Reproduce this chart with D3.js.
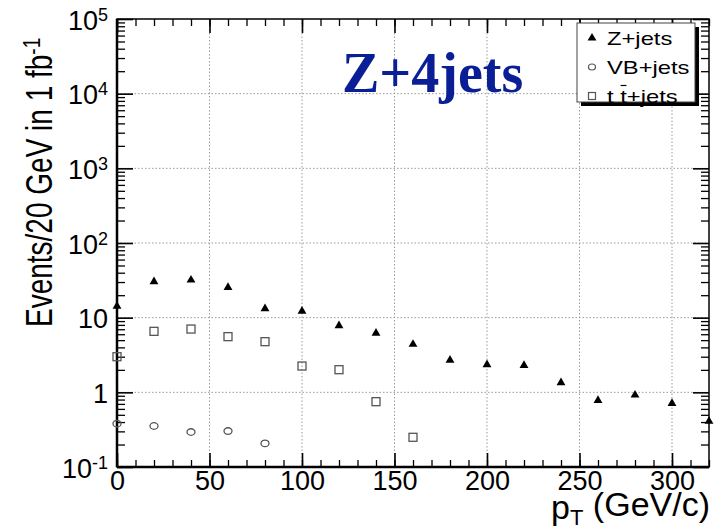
<!DOCTYPE html>
<html>
<head>
<meta charset="utf-8">
<script src="https://cdn.jsdelivr.net/npm/d3@7"></script>
<style>
  body { margin: 0; background: #fff; }
  text { font-family: "Liberation Sans", Arial, sans-serif; }
</style>
</head>
<body>
<svg width="714" height="532"></svg>
<script>
var svg = d3.select("svg");

// Dimensions and Margin
var margin = { top: 19, right: 5, bottom: 65, left: 117 };
var width = +svg.attr("width") - margin.left - margin.right;
var height = +svg.attr("height") - margin.top - margin.bottom;

// Data (pT bin start, events / 20 GeV)
var zPt = [0, 20, 40, 60, 80, 100, 120, 140, 160, 180, 200, 220, 240, 260, 280, 300, 320];
var zJets = [14.3, 30.3, 31.9, 25.4, 13.2, 12.2, 7.8, 6.2, 4.4, 2.7, 2.35, 2.3, 1.35, 0.78, 0.92, 0.71, 0.41];
var vbPt = [0, 20, 40, 60, 80];
var vbJets = [0.38, 0.354, 0.294, 0.303, 0.207];
var ttPt = [0, 20, 40, 60, 80, 100, 120, 140, 160];
var ttJets = [3.0, 6.56, 7.04, 5.57, 4.77, 2.25, 2.01, 0.75, 0.25];

var xMajor = [0, 50, 100, 150, 200, 250, 300];
var yDecades = [-1, 0, 1, 2, 3, 4, 5];

var chartG = svg.append("g")
    .attr("transform", "translate(" + margin.left + "," + margin.top + ")");

// Scales
var xScale = d3.scaleLinear().domain([0, 320]).range([0, width]);
var yScale = d3.scaleLog().domain([0.1, 1e5]).range([height, 0]);

var xMinor = d3.range(0, 321, 10);
var yMinor = [];
yDecades.slice(0, -1).forEach(function (e) {
    for (var k = 2; k <= 9; k++) yMinor.push(k * Math.pow(10, e));
});
var yMajorVals = yDecades.map(function (e) { return Math.pow(10, e); });

// Grid
chartG.append("g").selectAll("line")
    .data(xMajor.slice(1))
    .enter().append("line")
    .attr("x1", d => xScale(d)).attr("x2", d => xScale(d))
    .attr("y1", 0).attr("y2", height)
    .attr("stroke", "#9a9a9a").attr("stroke-width", 1)
    .attr("stroke-dasharray", "1.5,2");

chartG.append("g").selectAll("line")
    .data(yMajorVals.slice(1, -1))
    .enter().append("line")
    .attr("y1", d => yScale(d)).attr("y2", d => yScale(d))
    .attr("x1", 0).attr("x2", width)
    .attr("stroke", "#9a9a9a").attr("stroke-width", 1)
    .attr("stroke-dasharray", "1.5,2");

// Axes (ticks inward on all four sides)
function styleAxis(g, w) {
    g.select(".domain").remove();
    g.selectAll(".tick line").attr("stroke", "#000").attr("stroke-width", w);
}

chartG.append("g").attr("transform", "translate(0," + height + ")")
    .call(d3.axisBottom(xScale).tickValues(xMinor).tickSize(-7).tickFormat(""))
    .call(g => styleAxis(g, 1.3));
chartG.append("g")
    .call(d3.axisTop(xScale).tickValues(xMinor).tickSize(-7).tickFormat(""))
    .call(g => styleAxis(g, 1.3));

var xAxisG = chartG.append("g").attr("class", "x axis")
    .attr("transform", "translate(0," + height + ")")
    .call(d3.axisBottom(xScale).tickValues(xMajor).tickSize(-14).tickPadding(4).tickFormat(d3.format("d")))
    .call(g => styleAxis(g, 1.6));
xAxisG.selectAll(".tick text")
    .attr("fill", "#000")
    .attr("dy", "0.72em")
    .style("font-size", "27px");

chartG.append("g")
    .call(d3.axisTop(xScale).tickValues(xMajor).tickSize(-14).tickFormat(""))
    .call(g => styleAxis(g, 1.6));

chartG.append("g")
    .call(d3.axisLeft(yScale).tickValues(yMinor).tickSize(-8).tickFormat(""))
    .call(g => styleAxis(g, 1.3));
chartG.append("g").attr("transform", "translate(" + width + ",0)")
    .call(d3.axisRight(yScale).tickValues(yMinor).tickSize(-8).tickFormat(""))
    .call(g => styleAxis(g, 1.3));
chartG.append("g").attr("transform", "translate(" + width + ",0)")
    .call(d3.axisRight(yScale).tickValues(yMajorVals).tickSize(-16).tickFormat(""))
    .call(g => styleAxis(g, 1.6));

var yAxisG = chartG.append("g").attr("class", "y axis")
    .call(d3.axisLeft(yScale).tickValues(yMajorVals).tickSize(-16).tickPadding(10).tickFormat(""))
    .call(g => styleAxis(g, 1.6));

// y tick labels: 1 and 10 plain, others as 10^n
yAxisG.selectAll(".tick").each(function (d) {
    var e = Math.round(Math.log10(d));
    var t = d3.select(this).select("text")
        .attr("fill", "#000")
        .attr("x", -9)
        .attr("dy", "0.38em")
        .style("font-size", "27px")
        .text(null);
    if (e === 0) {
        t.append("tspan").text("1");
    } else if (e === 1) {
        t.append("tspan").text("10");
    } else {
        t.append("tspan").text("10");
        t.append("tspan").attr("dy", "-0.5em").style("font-size", "18px").text(e);
    }
});

// Frame
chartG.append("rect")
    .attr("width", width).attr("height", height)
    .attr("fill", "none").attr("stroke", "#000").attr("stroke-width", 1.5);
chartG.append("line").attr("x1", 0).attr("x2", 0).attr("y1", 0).attr("y2", height)
    .attr("stroke", "#000").attr("stroke-width", 2.5);
chartG.append("line").attr("x1", 0).attr("x2", width).attr("y1", height).attr("y2", height)
    .attr("stroke", "#000").attr("stroke-width", 2.5);

// Markers
var triangle = d3.symbol().type(d3.symbolTriangle).size(34);

chartG.append("g").selectAll("path")
    .data(zPt.map((p, i) => [p, zJets[i]]))
    .enter().append("path")
    .attr("d", triangle)
    .attr("transform", d => "translate(" + xScale(d[0]) + "," + yScale(d[1]) + ")")
    .attr("fill", "#000");

chartG.append("g").selectAll("ellipse")
    .data(vbPt.map((p, i) => [p, vbJets[i]]))
    .enter().append("ellipse")
    .attr("cx", d => xScale(d[0])).attr("cy", d => yScale(d[1]))
    .attr("rx", 4).attr("ry", 3.3)
    .attr("fill", "none").attr("stroke", "#555").attr("stroke-width", 1.3);

chartG.append("g").selectAll("rect")
    .data(ttPt.map((p, i) => [p, ttJets[i]]))
    .enter().append("rect")
    .attr("x", d => xScale(d[0]) - 4).attr("y", d => yScale(d[1]) - 4)
    .attr("width", 8).attr("height", 8)
    .attr("fill", "none").attr("stroke", "#555").attr("stroke-width", 1.3);

// Title
svg.append("text")
    .attr("x", 342).attr("y", 92)
    .style("font-family", "'Liberation Serif', 'Times New Roman', serif")
    .style("font-weight", "bold")
    .style("font-size", "56px")
    .attr("fill", "#0a1f96")
    .text("Z+4jets");

// Axis titles
var yLabel = svg.append("text")
    .attr("transform", "translate(52,327) rotate(-90) scale(1,1.3)")
    .style("font-size", "28px")
    .attr("fill", "#000");
yLabel.append("tspan").text("Events/20 GeV in 1 fb");
yLabel.append("tspan").attr("dy", "-0.5em").style("font-size", "19px").text("-1");

var xLabel = svg.append("text")
    .attr("x", 710).attr("y", 519)
    .attr("text-anchor", "end")
    .style("font-size", "34px")
    .attr("fill", "#000");
xLabel.append("tspan").text("p");
xLabel.append("tspan").attr("dy", "0.28em").style("font-size", "22px").text("T");
xLabel.append("tspan").attr("dy", "-0.28em").text(" (GeV/c)");

// Legend
var legendG = svg.append("g").attr("transform", "translate(577,23)");
legendG.append("rect").attr("x", 4).attr("y", 4).attr("width", 118).attr("height", 79).attr("fill", "#000");
legendG.append("rect").attr("width", 118).attr("height", 79)
    .attr("fill", "#fff").attr("stroke", "#444").attr("stroke-width", 1);

var legendRows = ["Z+jets", "VB+jets", "t t+jets"];
legendRows.forEach(function (name, i) {
    var cy = 15 + i * 29;
    if (i === 0) {
        legendG.append("path").attr("d", triangle)
            .attr("transform", "translate(15," + cy + ")").attr("fill", "#000");
    } else if (i === 1) {
        legendG.append("ellipse").attr("cx", 15).attr("cy", cy).attr("rx", 3.5).attr("ry", 3)
            .attr("fill", "none").attr("stroke", "#555").attr("stroke-width", 1.2);
    } else {
        legendG.append("rect").attr("x", 11.5).attr("y", cy - 3.5).attr("width", 7).attr("height", 7)
            .attr("fill", "none").attr("stroke", "#555").attr("stroke-width", 1.2);
    }
    var rowG = legendG.append("g")
        .attr("transform", "translate(30," + cy + ") scale(1.25,1)");
    rowG.append("text")
        .attr("dy", "0.36em")
        .attr("xml:space", "preserve")
        .style("white-space", "pre")
        .style("font-size", "19px").attr("fill", "#000")
        .text(name);
    if (i === 2) {
        // bar over the anti-top (second "t")
        var tw = 0.278 * 19;
        rowG.append("line")
            .attr("x1", 2 * tw + 0.3).attr("x2", 3 * tw - 0.3)
            .attr("y1", -10.5).attr("y2", -10.5)
            .attr("stroke", "#000").attr("stroke-width", 1.2);
    }
});
</script>
</body>
</html>
